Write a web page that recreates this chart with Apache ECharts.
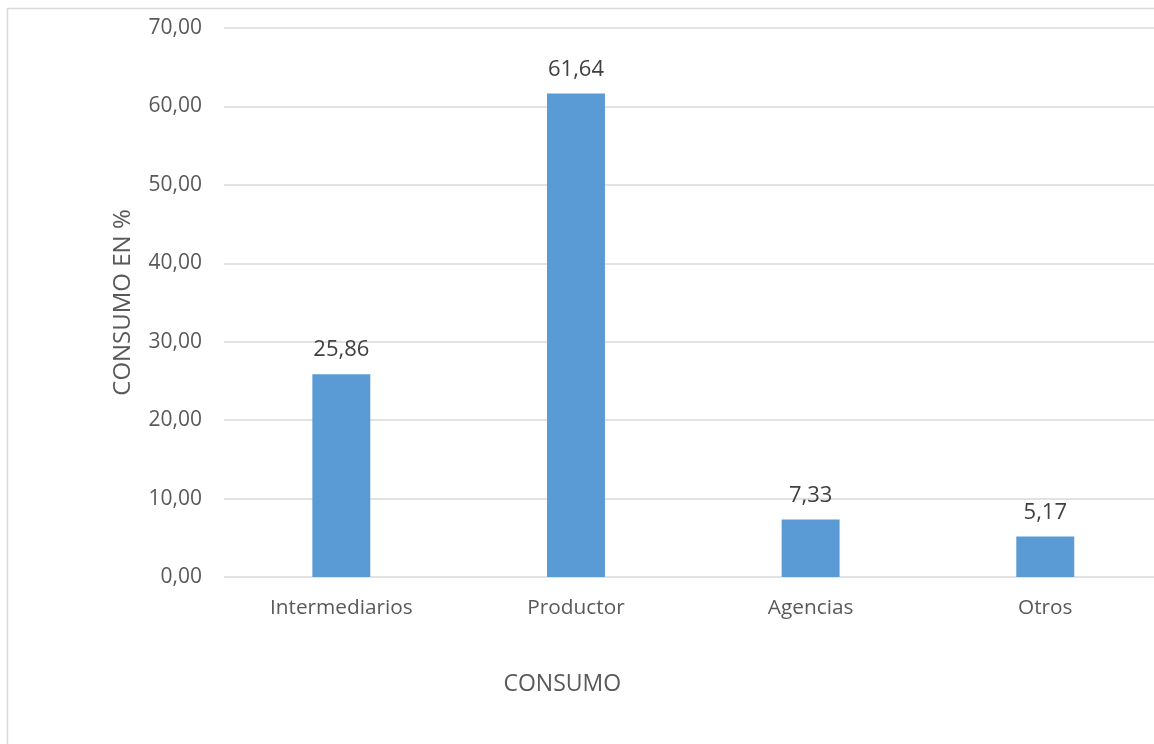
<!DOCTYPE html>
<html>
<head>
<meta charset="utf-8">
<script src="https://cdn.jsdelivr.net/npm/echarts@6/dist/echarts.min.js"></script>
<style>html,body{margin:0;padding:0;background:#fff;}#c{width:1154px;height:744px;}</style>
</head>
<body>
<div id="c"></div>
<script>
var categories = ['Intermediarios', 'Productor', 'Agencias', 'Otros'];
var values = [25.86, 61.64, 7.33, 5.17];
var yTicks = [0, 10, 20, 30, 40, 50, 60, 70];

var chart = echarts.init(document.getElementById('c'));
var font = "'Open Sans', 'Liberation Sans', sans-serif";
chart.setOption({
  animation: false,
  backgroundColor: '#fff',
  textStyle: { fontFamily: font },
  graphic: [{
    type: 'rect', silent: true,
    shape: { x: 7.5, y: 8.5, width: 1200, height: 800 },
    style: { fill: 'none', stroke: '#d9d9d9', lineWidth: 1.5 }
  }],
  grid: { left: 224, width: 938.6, top: 28, bottom: 167, containLabel: false, outerBoundsMode: 'none' },
  xAxis: {
    type: 'category',
    data: categories,
    name: 'CONSUMO',
    nameLocation: 'middle',
    nameGap: 96,
    nameTextStyle: { color: '#595959', fontSize: 23, fontFamily: font, padding: [0, 262, 0, 0] },
    axisLine: { show: false },
    axisTick: { show: false },
    axisLabel: { color: '#595959', fontSize: 20.8, margin: 21, fontFamily: font }
  },
  yAxis: {
    type: 'value',
    min: yTicks[0],
    max: yTicks[yTicks.length - 1],
    interval: 10,
    name: 'CONSUMO EN %',
    nameLocation: 'middle',
    nameGap: 89,
    nameTextStyle: { color: '#595959', fontSize: 24, fontFamily: font },
    axisLine: { show: false },
    axisTick: { show: false },
    splitLine: { lineStyle: { color: '#d9d9d9', width: 1.5 } },
    axisLabel: {
      color: '#595959', fontSize: 21, margin: 22, fontFamily: font,
      formatter: function (v) { return v.toFixed(2).replace('.', ','); }
    }
  },
  series: [{
    type: 'bar',
    data: values,
    barWidth: '24.7%',
    itemStyle: { color: '#5b9bd5' },
    label: {
      show: true, position: 'top', distance: 13,
      color: '#404040', fontSize: 22, fontFamily: font,
      formatter: function (p) { return p.value.toFixed(2).replace('.', ','); }
    }
  }]
});
</script>
</body>
</html>
